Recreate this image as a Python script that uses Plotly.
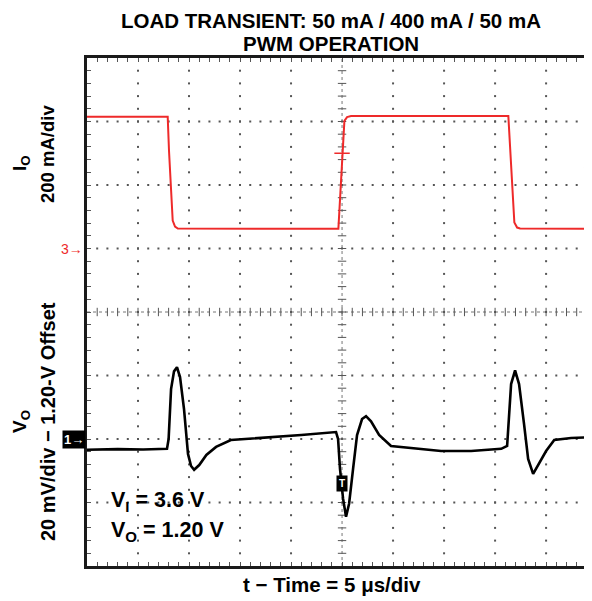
import plotly.graph_objects as go

# ---------------- data ----------------
# Load current (red), time in microseconds, current in mA
i_time = [-25.0, -17.09, -16.96, -16.76, -16.6, -16.37, -16.1,
          -0.36, -0.2, 0.0, 0.23, 0.49, 0.88,
          16.3, 16.47, 16.67, 16.89, 17.16, 17.45, 24.6]
i_ma = [415, 415, 307, 182, 88, 69, 63,
        62, 150, 292, 402, 414, 417,
        417, 307, 182, 82, 66, 63, 62]

# Output voltage deviation (black), mV relative to 1.20-V offset
v_time = [-25.0, -22.0, -19.5, -17.16, -17.0, -16.76, -16.47, -16.18, -15.88,
          -15.49, -15.1, -14.8, -14.5, -14.0, -13.3, -12.35, -10.9, -7.9,
          -4.0, -0.59, -0.39, -0.2, 0.1, 0.39, 0.69, 1.08, 1.47, 1.96, 2.35,
          2.84, 3.63, 4.8, 6.76, 9.7, 12.65, 15.6, 16.18, 16.37, 16.57, 16.96,
          17.35, 17.84, 18.24, 18.73, 19.3, 20.0, 20.8, 22.45, 24.6]
v_mv = [-3.4, -3.2, -3.3, -3.1, 0.0, 15.7, 21.3, 22.6, 19.5,
        9.4, -4.7, -8.5, -9.7, -8.2, -5.0, -2.5, -0.3, 0.3,
        1.25, 2.2, 0.0, -9.4, -18.8, -24.5, -20.4, -9.4, 1.25, 6.3, 7.2,
        5.6, 1.3, -2.2, -2.8, -3.8, -3.8, -3.1, -2.2, 6.3, 17.3, 21.6,
        17.3, 4.7, -6.3, -11.0, -7.8, -3.8, -0.3, 0.3, 0.6]

# scope settings
time_div = 5          # us/div
i_div = 200           # mA/div
v_div = 20            # mV/div
x_range = [-25, 24.5]
i_range = [-1000, 600]
v_range = [-40, 120]

FONT = "Liberation Sans, Arial, sans-serif"
RED = "#ee2a2a"
GRID = "#555555"

OFF = 8  # default page body margin
W, H = 592 - OFF, 601 - OFF
ML, MR, MT, MB = 79, 0, 50, 35
PW, PH = W - ML - MR, H - MT - MB


def px(xp):
    return (xp - OFF - ML) / PW


def py(yp):
    return (H - MB - (yp - OFF)) / PH


fig = go.Figure()

# ---------- graticule dots ----------
gx, gy = [], []
major_x = [k * time_div for k in range(-4, 5) if k != 0]
minor_y = [i_range[0] + k * i_div / 5 for k in range(1, 40)]
for xv in major_x:
    for yv in minor_y:
        gx.append(xv); gy.append(yv)
major_y = [i_range[0] + k * i_div for k in range(1, 8) if k != 4]
minor_x = [x_range[0] + k * time_div / 5 for k in range(1, 50)]
for yv in major_y:
    for xv in minor_x:
        gx.append(xv); gy.append(yv)
fig.add_trace(go.Scatter(x=gx, y=gy, mode="markers", hoverinfo="skip",
                         marker=dict(symbol="square", size=2, color=GRID, line=dict(width=0)),
                         showlegend=False))

# center crosshair
y_center = i_range[0] + 4 * i_div
fig.add_shape(type="line", x0=0, x1=0, y0=i_range[0], y1=i_range[1], xref="x", yref="y",
              line=dict(color="#777777", width=1, dash="dot"), layer="below")
fig.add_shape(type="line", x0=x_range[0], x1=x_range[1], y0=y_center, y1=y_center, xref="x", yref="y",
              line=dict(color="#777777", width=1, dash="dot"), layer="below")
fig.add_trace(go.Scatter(x=[0] * len(minor_y), y=minor_y, mode="markers", hoverinfo="skip",
                         marker=dict(symbol="line-ew", size=6, line=dict(color=GRID, width=1)),
                         showlegend=False))
fig.add_trace(go.Scatter(x=minor_x, y=[y_center] * len(minor_x), mode="markers", hoverinfo="skip",
                         marker=dict(symbol="line-ns", size=6, line=dict(color=GRID, width=1)),
                         showlegend=False))

# ---------- traces ----------
fig.add_trace(go.Scatter(x=i_time, y=i_ma, mode="lines", line=dict(color=RED, width=2),
                         yaxis="y", showlegend=False))
fig.add_trace(go.Scatter(x=v_time, y=v_mv, mode="lines", line=dict(color="black", width=2.6),
                         yaxis="y2", showlegend=False))

# trigger marks
fig.add_trace(go.Scatter(x=[0], y=[300], mode="markers", yaxis="y", showlegend=False,
                         marker=dict(symbol="line-ew", size=11, line=dict(color=RED, width=1.5))))
fig.add_trace(go.Scatter(x=[24.2], y=[254], mode="markers", yaxis="y", showlegend=False,
                         marker=dict(symbol="triangle-left", size=10, color=RED)))

texts = [
    ("<b>LOAD TRANSIENT: 50 mA / 400 mA / 50 mA</b>", 331, 20.5, 0, 20.5),
    ("<b>PWM OPERATION</b>", 331, 43.5, 0, 20.5),
    ("<b>t − Time = 5 μs/div</b>", 332, 584, 0, 20.5),
    ("<b>I<sub>O</sub></b>", 21, 163, -90, 19),
    ("<b>200 mA/div</b>", 47, 154, -90, 18.5),
    ("<b>V<sub>O</sub></b>", 21, 422, -90, 19),
    ("<b>20 mV/div − 1.20-V Offset</b>", 48, 422, -90, 20),
]
fig_anns = []
for t, x, y, ang, fs in texts:
    fig_anns.append(dict(text=t, xref="paper", yref="paper",
                         x=px(x), y=py(y), xanchor="center", yanchor="middle",
                         showarrow=False, textangle=ang,
                         font=dict(family=FONT, size=fs, color="black")))
fig_anns.append(dict(text="<b>V<sub>I</sub> = 3.6 V</b>", xref="paper", yref="paper",
                     x=px(109), y=py(501), xanchor="left", yanchor="middle", showarrow=False,
                     font=dict(family=FONT, size=21.5, color="black")))
fig_anns.append(dict(text="<b>V<sub>O</sub> = 1.20 V</b>", xref="paper", yref="paper",
                     x=px(109), y=py(531), xanchor="left", yanchor="middle", showarrow=False,
                     font=dict(family=FONT, size=21.5, color="black")))
# channel markers
fig_anns.append(dict(text="3→", xref="paper", yref="y",
                     x=0, y=0, xanchor="right", yanchor="middle", xshift=-2, showarrow=False,
                     font=dict(family=FONT, size=14, color=RED)))
fig_anns.append(dict(text="<b>1→</b>", xref="paper", yref="y2",
                     x=0, y=0, xanchor="right", yanchor="middle", xshift=-1, showarrow=False,
                     bgcolor="black", borderpad=1,
                     font=dict(family=FONT, size=13, color="white")))
fig_anns.append(dict(text="<b>T</b>", xref="x", yref="y2",
                     x=0, y=-14, xanchor="center", yanchor="middle", showarrow=False,
                     bgcolor="black", borderpad=2,
                     font=dict(family=FONT, size=10, color="white")))

fig.update_layout(
    width=W, height=H,
    margin=dict(l=ML, r=MR, t=MT, b=MB, autoexpand=False),
    paper_bgcolor="white", plot_bgcolor="white",
    annotations=fig_anns,
    xaxis=dict(range=x_range, showgrid=False, zeroline=False, showticklabels=False,
               showline=True, linewidth=3, linecolor="#1a1a1a", mirror="ticks",
               ticks="inside", tick0=0, dtick=time_div / 5, ticklen=4, tickcolor=GRID, tickwidth=1),
    yaxis=dict(range=i_range, showgrid=False, zeroline=False, showticklabels=False,
               showline=True, linewidth=3, linecolor="#1a1a1a",
               ticks="inside", tick0=i_range[0], dtick=i_div / 5, ticklen=4, tickcolor=GRID, tickwidth=1),
    yaxis2=dict(range=v_range, overlaying="y", showgrid=False, zeroline=False,
                showticklabels=False, showline=False, ticks=""),
)

fig.write_html("out.html")
